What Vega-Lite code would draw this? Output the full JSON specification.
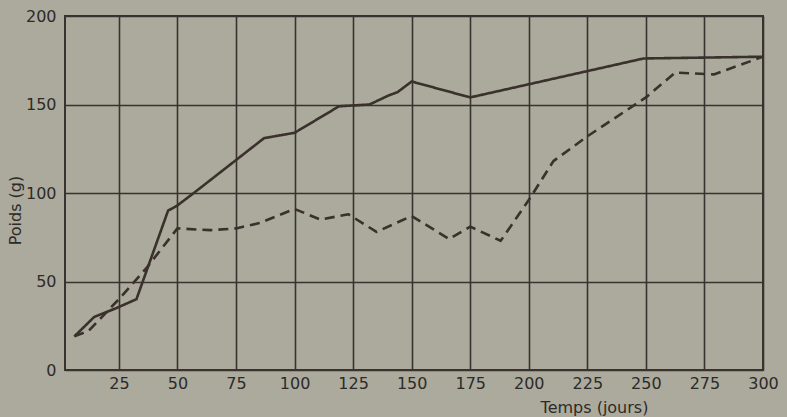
{
  "$schema": "https://vega.github.io/schema/vega-lite/v6.json",
  "width": 698,
  "height": 354,
  "autosize": {"type": "none"},
  "padding": {"left": 65, "top": 16, "right": 24, "bottom": 47},
  "background": "#abaa9d",
  "config": {
    "view": {"stroke": "#3a322e", "strokeWidth": 2},
    "font": "DejaVu Sans",
    "axis": {
      "labelFont": "DejaVu Sans",
      "titleFont": "DejaVu Sans",
      "labelColor": "#2e2a28",
      "titleColor": "#2e2a28",
      "labelFontSize": 16,
      "titleFontSize": 16,
      "titleFontWeight": "normal",
      "domain": false,
      "ticks": false,
      "gridColor": "#3a322e",
      "gridOpacity": 1,
      "gridWidth": 1.6
    }
  },
  "data": {
    "values": [
      {"t": 6, "poids": 19, "serie": "A"},
      {"t": 14.5, "poids": 30, "serie": "A"},
      {"t": 24, "poids": 35, "serie": "A"},
      {"t": 32.5, "poids": 40, "serie": "A"},
      {"t": 46, "poids": 90, "serie": "A"},
      {"t": 50, "poids": 93, "serie": "A"},
      {"t": 57, "poids": 100, "serie": "A"},
      {"t": 87, "poids": 131, "serie": "A"},
      {"t": 100, "poids": 134, "serie": "A"},
      {"t": 119, "poids": 149, "serie": "A"},
      {"t": 132, "poids": 150, "serie": "A"},
      {"t": 140, "poids": 155, "serie": "A"},
      {"t": 144, "poids": 157, "serie": "A"},
      {"t": 150, "poids": 163, "serie": "A"},
      {"t": 175, "poids": 154, "serie": "A"},
      {"t": 249, "poids": 176, "serie": "A"},
      {"t": 300, "poids": 177, "serie": "A"},
      {"t": 6, "poids": 19, "serie": "B"},
      {"t": 12, "poids": 22, "serie": "B"},
      {"t": 25, "poids": 40, "serie": "B"},
      {"t": 37, "poids": 58, "serie": "B"},
      {"t": 50, "poids": 80, "serie": "B"},
      {"t": 64, "poids": 79, "serie": "B"},
      {"t": 75, "poids": 80, "serie": "B"},
      {"t": 85, "poids": 83, "serie": "B"},
      {"t": 100, "poids": 91, "serie": "B"},
      {"t": 111, "poids": 85, "serie": "B"},
      {"t": 123, "poids": 88, "serie": "B"},
      {"t": 135, "poids": 78, "serie": "B"},
      {"t": 150, "poids": 87, "serie": "B"},
      {"t": 166, "poids": 74, "serie": "B"},
      {"t": 175, "poids": 81, "serie": "B"},
      {"t": 188, "poids": 73, "serie": "B"},
      {"t": 200, "poids": 96, "serie": "B"},
      {"t": 210.5, "poids": 118, "serie": "B"},
      {"t": 225, "poids": 132, "serie": "B"},
      {"t": 250, "poids": 154, "serie": "B"},
      {"t": 262.5, "poids": 168, "serie": "B"},
      {"t": 279, "poids": 167, "serie": "B"},
      {"t": 300, "poids": 177, "serie": "B"}
    ]
  },
  "mark": {"type": "line", "color": "#3a302c", "strokeWidth": 2.6, "strokeJoin": "round", "clip": true},
  "encoding": {
    "x": {
      "field": "t",
      "type": "quantitative",
      "scale": {"domain": [2, 300], "nice": false, "zero": false},
      "axis": {
        "values": [25, 50, 75, 100, 125, 150, 175, 200, 225, 250, 275, 300],
        "labelPadding": 5,
        "title": "Temps (jours)",
        "titleX": 529,
        "titleY": 37,
        "titleAlign": "center",
        "titleBaseline": "middle",
        "labelFlush": false
      }
    },
    "y": {
      "field": "poids",
      "type": "quantitative",
      "scale": {"domain": [0, 200], "nice": false},
      "axis": {
        "values": [0, 50, 100, 150, 200],
        "labelPadding": 9,
        "title": "Poids (g)",
        "titleX": -50,
        "titleY": 194,
        "titleAngle": -90,
        "titleAlign": "center",
        "titleBaseline": "middle"
      }
    },
    "strokeDash": {
      "field": "serie",
      "type": "nominal",
      "scale": {"domain": ["A", "B"], "range": [[1, 0], [10, 6]]},
      "legend": null
    }
  }
}
